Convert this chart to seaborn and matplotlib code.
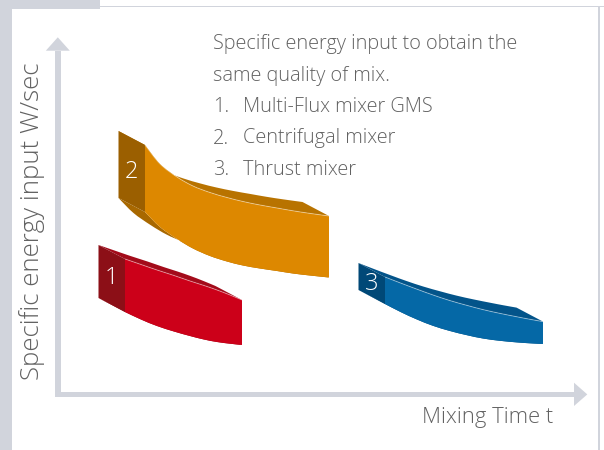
import numpy as np
import seaborn as sns
import matplotlib.pyplot as plt
from matplotlib.patches import Polygon, Rectangle, PathPatch
from matplotlib.path import Path

## Dados (tempo de mistura x energia específica, unidades do desenho)
mixer_names = ["Multi-Flux mixer GMS", "Centrifugal mixer", "Thrust mixer"]
mixer_numbers = ["1", "2", "3"]

time_1 = [125, 141, 157, 174, 190, 204, 217, 230, 242]
energy_top_1 = [191, 185.5, 180, 174.5, 169, 164.5, 160, 155, 150]
energy_bottom_1 = [138, 130.5, 124, 118.5, 114, 110.5, 108, 106.3, 105]

time_2 = [145, 160, 177, 193, 210, 227, 243, 260, 277, 293, 310, 329]
energy_top_2 = [305, 286, 273, 264, 257.5, 252.5, 248.5, 245, 242, 239.2, 236.6, 234]
energy_bottom_2 = [238, 223, 211, 201.5, 194, 188.5, 184.5, 181.5, 179, 176.5, 174.5, 172.5]

time_3 = [385, 401, 417, 433, 450, 467, 483, 500, 517, 530, 543]
energy_top_3 = [173, 166.8, 160.8, 155, 149.4, 144.6, 140.4, 136.6, 133.2, 130.7, 128.4]
energy_bottom_3 = [146, 137.8, 130.5, 124.2, 119, 114.8, 111.5, 109.2, 107.6, 106.7, 106]

title_lines = ["Specific energy input to obtain the", "same quality of mix."]
x_label = "Mixing Time t"
y_label = "Specific energy input W/sec"

## Estilo
depth_dx, depth_dy = -26.5, 14
cores = {
    "1": {"front": "#cc0019", "top": "#a30b1a", "side": "#8c0f17", "bottom": "#900c16"},
    "2": {"front": "#dd8800", "top": "#b87300", "side": "#9b5f00", "bottom": "#a86800"},
    "3": {"front": "#0568a6", "top": "#03548a", "side": "#004877", "bottom": "#034f80"},
}
grey = "#d1d4dc"
text_grey = "#626262"

sns.set_theme(style="white")
plt.rcParams["font.family"] = ["Open Sans", "DejaVu Sans"]

fig = plt.figure(figsize=(6.04, 4.5), dpi=100)
ax = fig.add_axes([0, 0, 1, 1])
ax.set_xlim(0, 604)
ax.set_ylim(0, 450)
ax.axis("off")

## Moldura cinza
ax.add_patch(Rectangle((0, 0), 11.5, 450, color=grey, lw=0))
ax.add_patch(Rectangle((0, 441), 100, 9, color=grey, lw=0))
ax.add_patch(Rectangle((100, 442.7), 504, 1.6, color=grey, lw=0))
ax.add_patch(Rectangle((597.7, 0), 2.3, 444, color=grey, lw=0))

## Eixos com setas
ax.add_patch(Rectangle((55, 52.7), 5.6, 346.6, color=grey, lw=0))
ax.add_patch(Polygon([[45.8, 399.3], [69.8, 399.3], [57.8, 412.7]], color=grey, lw=0))
ax.add_patch(Rectangle((55, 52.7), 519, 5.6, color=grey, lw=0))
ax.add_patch(Polygon([[574, 44], [574, 67.3], [587.3, 55.6]], color=grey, lw=0))


def bezier(pts):
    # segmentos de Bezier (Catmull-Rom) passando pelos pontos lidos
    verts = []
    n = len(pts)
    for i in range(n - 1):
        p0 = pts[max(i - 1, 0)]
        p1 = pts[i]
        p2 = pts[i + 1]
        p3 = pts[min(i + 2, n - 1)]
        verts += [p1 + (p2 - p0) / 6, p2 - (p3 - p1) / 6, p2]
    return verts


def face(a, b):
    # a: borda da frente, b: borda de tras (mesmo sentido)
    verts = [a[0]] + bezier(a) + [b[-1]] + bezier(b[::-1]) + [a[0]]
    codes = ([Path.MOVETO] + [Path.CURVE4] * (3 * (len(a) - 1)) + [Path.LINETO]
             + [Path.CURVE4] * (3 * (len(b) - 1)) + [Path.CLOSEPOLY])
    return Path(np.array(verts), codes)


def desenha_fita(tempo, topo, base, num):
    t = np.array(tempo, dtype=float)
    c = cores[num]
    top = np.c_[t, topo]
    bot = np.c_[t, base]
    d = np.array([depth_dx, depth_dy])
    ax.add_patch(PathPatch(face(bot, bot + d), fc=c["bottom"], lw=0, zorder=2))
    ax.add_patch(PathPatch(face(top, top + d), fc=c["top"], lw=0, zorder=3))
    side = [top[0], top[0] + d, bot[0] + d, bot[0]]
    ax.add_patch(Polygon(side, color=c["side"], lw=0, zorder=4))
    ax.add_patch(PathPatch(face(top, bot), fc=c["front"], lw=0, zorder=5))
    edge = Path(np.array([top[0]] + bezier(top)),
                [Path.MOVETO] + [Path.CURVE4] * (3 * (len(top) - 1)))
    ax.add_patch(PathPatch(edge, fc="none", ec="white", alpha=0.4, lw=0.7, zorder=6))
    ax.text(top[0][0] + depth_dx / 2, (topo[0] + base[0] + depth_dy) / 2,
            num, color="white", fontsize=17, fontweight="light",
            ha="center", va="center", zorder=7)


desenha_fita(time_2, energy_top_2, energy_bottom_2, "2")
desenha_fita(time_1, energy_top_1, energy_bottom_1, "1")
desenha_fita(time_3, energy_top_3, energy_bottom_3, "3")

## Textos
fs = 14.3
kw = dict(color=text_grey, fontsize=fs, va="baseline", fontweight="light")
ax.text(213, 401, title_lines[0], **kw)
ax.text(213, 369.5, title_lines[1], **kw)
for i, (n, nome) in enumerate(zip(mixer_numbers, mixer_names)):
    y = 338 - i * 31.5
    ax.text(213, y, n + ".", **kw)
    ax.text(243, y, nome, **kw)

ax.text(553, 27, x_label, color=text_grey, fontsize=15.8, fontweight="light",
        ha="right", va="baseline")
ax.text(32, 229, y_label, color=text_grey, fontsize=18.6, fontweight="light",
        rotation=90, ha="center", va="center")

plt.savefig("out.png", dpi=100)
